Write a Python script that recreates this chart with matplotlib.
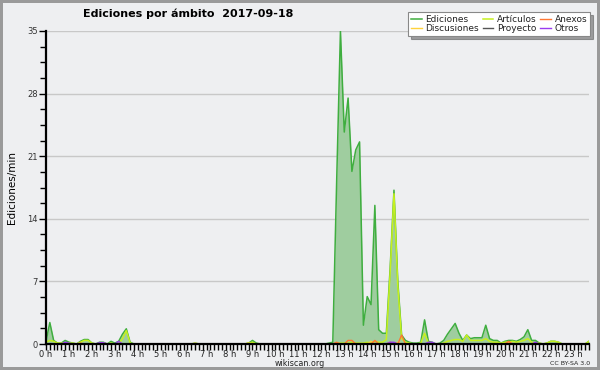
import numpy as np
import matplotlib
matplotlib.use("Agg")
import matplotlib.pyplot as plt
from matplotlib.ticker import MultipleLocator, FixedLocator

# 10-minute samples, one row per hour (last hour ends at 23:40)
ediciones = [
    0.3, 2.4, 0.4, 0.1, 0.1, 0.4,      # 0 h
    0.2, 0.1, 0.0, 0.3, 0.5, 0.5,      # 1 h
    0.1, 0.0, 0.2, 0.2, 0.0, 0.3,      # 2 h
    0.1, 0.3, 1.1, 1.7, 0.2, 0.0,      # 3 h
    0.0, 0.0, 0.0, 0.0, 0.0, 0.0,      # 4 h
    0.0, 0.0, 0.0, 0.0, 0.0, 0.0,      # 5 h
    0.0, 0.0, 0.0, 0.1, 0.0, 0.0,      # 6 h
    0.0, 0.0, 0.0, 0.0, 0.0, 0.0,      # 7 h
    0.0, 0.0, 0.0, 0.0, 0.0, 0.1,      # 8 h
    0.4, 0.1, 0.0, 0.0, 0.0, 0.0,      # 9 h
    0.0, 0.0, 0.0, 0.0, 0.0, 0.0,      # 10 h
    0.0, 0.0, 0.0, 0.0, 0.0, 0.0,      # 11 h
    0.0, 0.0, 0.1, 0.2, 18.0, 35.0,    # 12 h
    23.7, 27.5, 19.3, 21.7, 22.6, 2.1, # 13 h
    5.3, 4.4, 15.5, 1.6, 1.2, 1.2,     # 14 h
    8.5, 17.2, 7.0, 1.0, 0.4, 0.2,     # 15 h
    0.1, 0.1, 0.2, 2.7, 0.3, 0.2,      # 16 h
    0.0, 0.1, 0.4, 1.1, 1.7, 2.3,      # 17 h
    1.2, 0.4, 1.0, 0.6, 0.7, 0.7,      # 18 h
    0.7, 2.1, 0.6, 0.4, 0.4, 0.1,      # 19 h
    0.3, 0.4, 0.4, 0.3, 0.5, 0.8,      # 20 h
    1.6, 0.4, 0.4, 0.1, 0.0, 0.1,      # 21 h
    0.3, 0.3, 0.2, 0.0, 0.0, 0.0,      # 22 h
    0.0, 0.0, 0.0, 0.0, 0.3,           # 23 h
]
articulos = [
    0.2, 0.4, 0.3, 0.1, 0.1, 0.1,
    0.1, 0.1, 0.0, 0.2, 0.4, 0.4,
    0.1, 0.0, 0.0, 0.1, 0.0, 0.1,
    0.0, 0.0, 0.6, 1.5, 0.1, 0.0,
    0.0, 0.0, 0.0, 0.0, 0.0, 0.0,
    0.0, 0.0, 0.0, 0.0, 0.0, 0.0,
    0.0, 0.0, 0.0, 0.0, 0.0, 0.0,
    0.0, 0.0, 0.0, 0.0, 0.0, 0.0,
    0.0, 0.0, 0.0, 0.0, 0.0, 0.1,
    0.2, 0.0, 0.0, 0.0, 0.0, 0.0,
    0.0, 0.0, 0.0, 0.0, 0.0, 0.0,
    0.0, 0.0, 0.0, 0.0, 0.0, 0.0,
    0.0, 0.0, 0.0, 0.0, 0.1, 0.1,
    0.1, 0.1, 0.2, 0.1, 0.1, 0.1,
    0.2, 0.1, 0.3, 0.2, 0.2, 0.5,
    8.0, 16.8, 6.5, 0.6, 0.2, 0.1,
    0.0, 0.0, 0.1, 1.2, 0.1, 0.0,
    0.0, 0.0, 0.1, 0.3, 0.4, 0.5,
    0.5, 0.3, 1.0, 0.4, 0.4, 0.4,
    0.4, 0.6, 0.3, 0.2, 0.2, 0.1,
    0.2, 0.2, 0.3, 0.2, 0.3, 0.4,
    0.6, 0.2, 0.1, 0.1, 0.0, 0.1,
    0.3, 0.3, 0.2, 0.0, 0.0, 0.0,
    0.0, 0.0, 0.0, 0.0, 0.3,
]
# small series, given as {sample index: value}
anexos_pts = {9: 0.1, 76: 0.2, 79: 0.4, 80: 0.4, 86: 0.4, 90: 0.2, 93: 1.0, 121: 0.3}
discusiones_pts = {39: 0.1, 53: 0.1, 85: 0.3, 92: 0.2, 121: 0.2}
proyecto_pts = {91: 0.1}
otros_pts = {5: 0.2, 6: 0.1, 14: 0.15, 15: 0.15, 19: 0.3, 90: 0.2, 91: 0.2,
             100: 0.2, 101: 0.2, 128: 0.2}

n = len(ediciones)
x = np.arange(n) / 6.0  # hours


def expand(pts):
    arr = np.zeros(n)
    for k, v in pts.items():
        arr[k] = v
    return arr


anexos = expand(anexos_pts)
discusiones = expand(discusiones_pts)
proyecto = expand(proyecto_pts)
otros = expand(otros_pts)

bg = "#eeeff1"
c_ed = "#3fae3f"
c_fill = "#9fcd9f"
c_art = "#c6f01e"
c_anx = "#ff7733"
c_dis = "#ffd23c"
c_pro = "#555555"
c_otr = "#9a3cf0"

plt.rcParams['font.family'] = ['DejaVu Sans']

fig = plt.figure(figsize=(6.0, 3.7), dpi=100)
fig.patch.set_facecolor(bg)
fig.patch.set_edgecolor("#9a9a9a")
fig.patch.set_linewidth(3)

ax = fig.add_axes([46 / 600, 26 / 370, 543 / 600, 313 / 370])
ax.set_facecolor(bg)

ax.fill_between(x, 0, ediciones, color=c_fill, lw=0, zorder=2)
l_ed, = ax.plot(x, ediciones, color=c_ed, lw=1.1, zorder=3)
l_art, = ax.plot(x, articulos, color=c_art, lw=1.1, zorder=4)
l_dis, = ax.plot(x, discusiones, color=c_dis, lw=1.0, zorder=4)
l_pro, = ax.plot(x, proyecto, color=c_pro, lw=1.0, zorder=4)
l_anx, = ax.plot(x, anexos, color=c_anx, lw=1.0, zorder=5)
l_otr, = ax.plot(x, otros, color=c_otr, lw=1.0, zorder=5)

ax.set_xlim(0, x[-1])
ax.set_ylim(0, 35)
ax.yaxis.set_major_locator(MultipleLocator(7))
ax.yaxis.set_minor_locator(MultipleLocator(1.75))
ax.grid(axis='y', which='major', color="#c8c8c8", lw=1, zorder=1)

hours = list(range(24))
ax.xaxis.set_major_locator(FixedLocator(hours))
ax.set_xticklabels([f"{h} h" for h in hours])
ax.xaxis.set_minor_locator(MultipleLocator(1 / 6))

for s in ("top", "right"):
    ax.spines[s].set_visible(False)
for s in ("left", "bottom"):
    ax.spines[s].set_linewidth(1.6)
    ax.spines[s].set_color("black")
    ax.spines[s].set_zorder(6)

ax.tick_params(axis='y', which='major', length=5, width=1, labelsize=6,
               labelcolor="#333333", pad=1)
ax.tick_params(axis='y', which='minor', length=4, width=1)
ax.tick_params(axis='x', which='major', length=4, width=1, labelsize=6,
               labelcolor="#222222", pad=0.5)
ax.tick_params(axis='x', which='minor', length=4, width=1)

ax.set_ylabel("Ediciones/min", fontsize=7.5)
ax.yaxis.set_label_coords(-29 / 543, 0.5)

fig.text(188 / 600, 1 - 14 / 370, "Ediciones por ámbito  2017-09-18",
         ha='center', va='center', fontsize=8, fontweight='bold')
fig.text(300 / 600, 1 - 364 / 370, "wikiscan.org", ha='center', va='center',
         fontsize=5.8, color="#222222")
fig.text(590 / 600, 1 - 363.5 / 370, "CC BY-SA 3.0", ha='right', va='center',
         fontsize=4.5, color="#222222")

leg = fig.legend([l_ed, l_dis, l_art, l_pro, l_anx, l_otr],
                 ["Ediciones", "Discusiones", "Artículos", "Proyecto",
                  "Anexos", "Otros"],
                 ncol=3, loc='upper right', bbox_to_anchor=(590 / 600, 1 - 12 / 370),
                 fontsize=6.5, frameon=True, fancybox=False, shadow=True,
                 handlelength=1.2, handletextpad=0.4, columnspacing=0.4,
                 labelspacing=0.05, borderpad=0.3, borderaxespad=0)
leg.get_frame().set_edgecolor("#888888")
leg.get_frame().set_linewidth(0.8)
leg.get_frame().set_facecolor("white")
for t in leg.get_texts():
    t.set_color("#222222")

fig.savefig("out.png", dpi=100, facecolor=bg, edgecolor="#9a9a9a")
